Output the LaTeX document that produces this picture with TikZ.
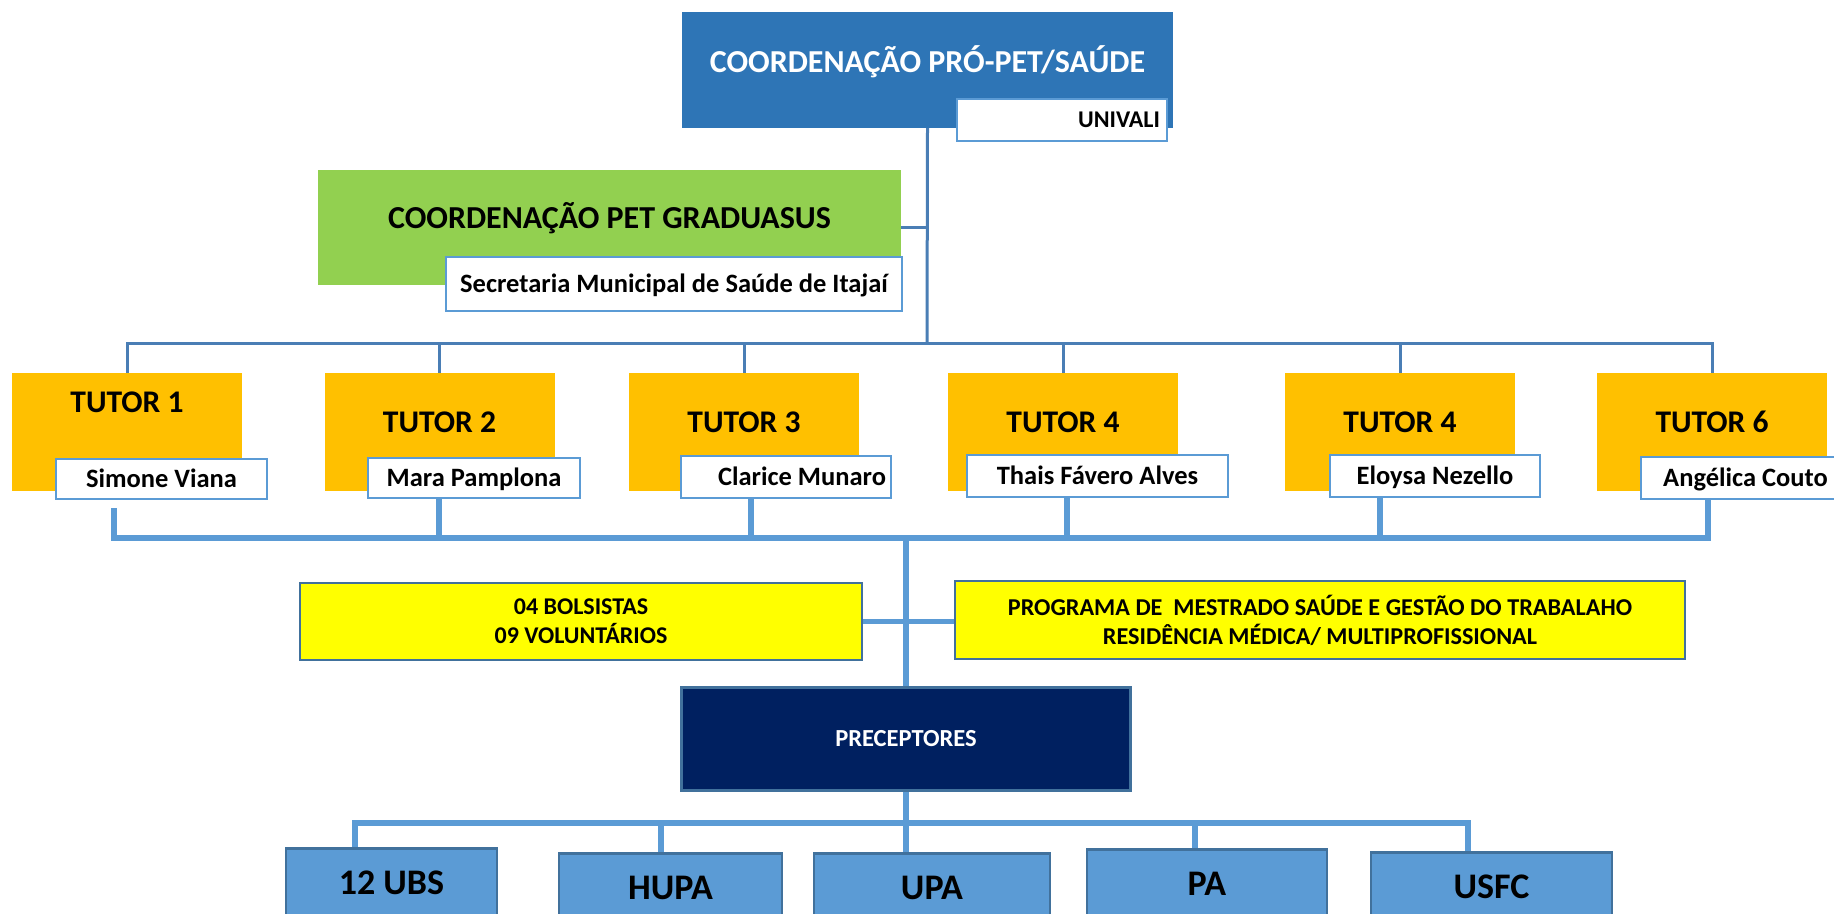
\documentclass[tikz,border=0pt]{standalone}
\usepackage{fontspec}
\setmainfont{Carlito}

\definecolor{problue}{HTML}{2E75B6}
\definecolor{gradgreen}{HTML}{92D050}
\definecolor{tutororange}{HTML}{FFC000}
\definecolor{bolsayellow}{HTML}{FFFF00}
\definecolor{precnavy}{HTML}{002060}
\definecolor{unitblue}{HTML}{5B9BD5}
\definecolor{edgeblue}{HTML}{41719C}
\definecolor{linkblue}{HTML}{4A7EB5}

\newcommand{\fsz}[2]{\bfseries\fontsize{#1}{#2}\selectfont}

\begin{document}
\begin{tikzpicture}[x=1pt,y=-1pt,
  box/.style={rectangle,inner sep=0pt},
  namebox/.style={box,fill=white,draw=unitblue,line width=2.5pt,
    font=\fsz{26.5}{26.5},text height=16.7pt,text depth=0pt},
  tutorbox/.style={box,fill=tutororange,minimum width=230pt,minimum height=118pt,
    font=\fsz{31.5}{31.5},text height=19.9pt,text depth=18pt},
  yellowbox/.style={box,fill=bolsayellow,draw=edgeblue,line width=2.5pt,
    align=center},
  unitbox/.style={box,fill=unitblue,draw=edgeblue,line width=2.5pt,anchor=north,
    minimum height=100pt,font=\fsz{36}{36},text height=22.7pt,text depth=30pt},
  thinlink/.style={draw=linkblue,line width=3pt},
  thicklink/.style={draw=unitblue,line width=5.5pt}]
  \path[use as bounding box,clip] (0,0) rectangle (1834,913);

  % Coordenacao Pro-PET/Saude
  \node[box,fill=problue,text=white,minimum width=491pt,minimum height=116pt,
    font=\fsz{32}{32},text height=20.2pt,text depth=16pt] (coord) at (927.5,70)
    {COORDENAÇÃO PRÓ-PET/SAÚDE};
  \node[namebox,minimum width=210pt,minimum height=42pt,text width=196pt,
    align=flush right,font=\fsz{24}{24},text height=15.2pt] (univali) at (1062,120) {UNIVALI};

  % Coordenacao PET GraduaSUS
  \node[box,fill=gradgreen,minimum width=583pt,minimum height=115pt,
    font=\fsz{32}{32},text height=20.2pt,text depth=19pt] (grad) at (609.5,227.5)
    {COORDENAÇÃO PET GRADUASUS};
  \node[namebox,minimum width=456pt,minimum height=54pt] (sms) at (674,284)
    {Secretaria Municipal de Saúde de Itajaí};

  % Tutores
  \node[tutorbox,text depth=58pt] (t1) at (127,432) {TUTOR 1};
  \node[tutorbox] (t2) at (439.5,432) {TUTOR 2};
  \node[tutorbox] (t3) at (744,432) {TUTOR 3};
  \node[tutorbox] (t4) at (1063,432) {TUTOR 4};
  \node[tutorbox] (t5) at (1400,432) {TUTOR 4};
  \node[tutorbox] (t6) at (1712,432) {TUTOR 6};

  \node[namebox,minimum width=211pt,minimum height=40pt] (n1) at (161.5,479) {Simone Viana};
  \node[namebox,minimum width=212pt,minimum height=40pt] (n2) at (474,478) {Mara Pamplona};
  \node[namebox,minimum width=210pt,minimum height=42pt,text width=200pt,align=flush right]
    (n3) at (786,477) {Clarice Munaro};
  \node[namebox,minimum width=261pt,minimum height=42pt] (n4) at (1097.5,476) {Thais Fávero Alves};
  \node[namebox,minimum width=210pt,minimum height=42pt] (n5) at (1435,476) {Eloysa Nezello};
  \node[namebox,minimum width=209pt,minimum height=42pt] (n6) at (1745.5,478) {Angélica Couto};

  % Bolsistas e programas
  \node[yellowbox,minimum width=562pt,minimum height=77pt,font=\fsz{24}{29}] (bolsa)
    at (581,621.5) {04 BOLSISTAS\\09 VOLUNTÁRIOS};
  \node[yellowbox,minimum width=730pt,minimum height=78pt,font=\fsz{24.2}{29}] (prog)
    at (1320,620)
    {PROGRAMA DE\ \ MESTRADO SAÚDE E GESTÃO DO TRABALAHO\\RESIDÊNCIA MÉDICA/ MULTIPROFISSIONAL};

  % Preceptores
  \node[box,fill=precnavy,draw=edgeblue,line width=2.5pt,text=white,
    minimum width=449pt,minimum height=103pt,font=\fsz{24.5}{24.5}] (prec) at (906,739)
    {PRECEPTORES};

  % Unidades
  \node[unitbox,minimum width=211pt] (ubs) at (391.5,847) {12 UBS};
  \node[unitbox,minimum width=223pt] (hupa) at (670.5,852) {HUPA};
  \node[unitbox,minimum width=236pt] (upa) at (932,852) {UPA};
  \node[unitbox,minimum width=240pt] (pa) at (1207,848) {PA};
  \node[unitbox,minimum width=241pt] (usfc) at (1491.5,851) {USFC};

  % Ligacoes superiores
  \coordinate (tbus) at (927,343);
  \draw[thinlink] (coord.south) -- (tbus);
  \draw[thinlink] (grad.east) -- (grad.east -| coord.south);
  \draw[thinlink] (t1.north) -- (t1.north |- tbus) -- (t6.north |- tbus) -- (t6.north);
  \draw[thinlink] (t2.north |- tbus) -- (t2.north);
  \draw[thinlink] (t3.north |- tbus) -- (t3.north);
  \draw[thinlink] (t4.north |- tbus) -- (t4.north);
  \draw[thinlink] (t5.north |- tbus) -- (t5.north);

  % Ligacoes dos tutores
  \coordinate (lb1) at (114,538);
  \coordinate (lb2) at (439,538);
  \coordinate (lb3) at (751,538);
  \coordinate (lb4) at (1067,538);
  \coordinate (lb5) at (1380,538);
  \coordinate (lb6) at (1708,538);
  \draw[thicklink,shorten <=8pt] (lb1 |- n1.south) -- (lb1) -- (lb6) -- (lb6 |- n6.south);
  \draw[thicklink] (lb2 |- n2.south) -- (lb2);
  \draw[thicklink] (lb3 |- n3.south) -- (lb3);
  \draw[thicklink] (lb4 |- n4.south) -- (lb4);
  \draw[thicklink] (lb5 |- n5.south) -- (lb5);
  \draw[thicklink] (prec.north |- lb1) -- (prec.north);
  \draw[thicklink] (bolsa.east) -- (bolsa.east -| prog.west);

  % Ligacoes inferiores
  \coordinate (bb1) at (355,823);
  \coordinate (bb2) at (661,823);
  \coordinate (bb3) at (906,823);
  \coordinate (bb4) at (1195,823);
  \coordinate (bb5) at (1468,823);
  \draw[thicklink] (prec.south) -- (bb3);
  \draw[thicklink] (bb1 |- ubs.north) -- (bb1) -- (bb5) -- (bb5 |- usfc.north);
  \draw[thicklink] (bb2) -- (bb2 |- hupa.north);
  \draw[thicklink] (bb3) -- (bb3 |- upa.north);
  \draw[thicklink] (bb4) -- (bb4 |- pa.north);
\end{tikzpicture}
\end{document}
